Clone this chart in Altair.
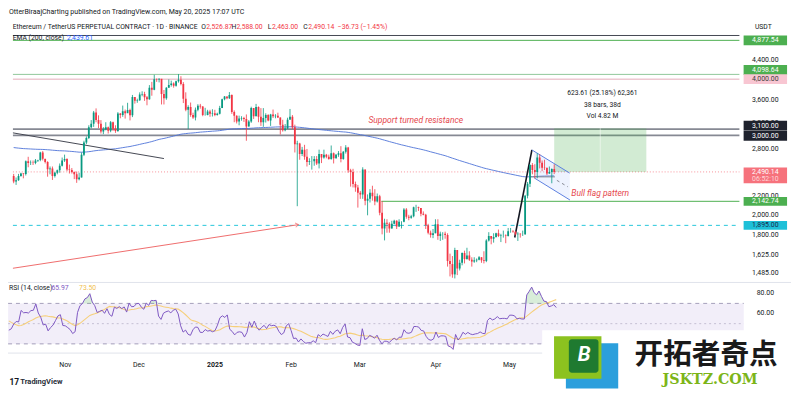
import altair as alt
import pandas as pd
import numpy as np

FONT = "Roboto"

# ---------------- data (ETHUSDT perpetual, 1D) ----------------
# day index t = days from 2024-11-01; first candle 2024-10-09 (t=-23), last 2025-05-20 (t=200)
T_FIRST = -23
FIRST_OPEN = 2440.0

OCT_C = [2370, 2385, 2440, 2470, 2465, 2630, 2605, 2610, 2605, 2640, 2645, 2750, 2665, 2620, 2525, 2535, 2440, 2480, 2510, 2570, 2640, 2660, 2520]
OCT_H = [2465, 2420, 2465, 2480, 2475, 2640, 2690, 2640, 2640, 2660, 2650, 2760, 2770, 2660, 2630, 2560, 2560, 2490, 2520, 2600, 2680, 2720, 2670]
OCT_L = [2350, 2330, 2380, 2430, 2410, 2445, 2550, 2580, 2580, 2590, 2620, 2630, 2640, 2600, 2430, 2460, 2390, 2420, 2460, 2480, 2560, 2620, 2500]

NOV_C = [2515, 2490, 2460, 2400, 2420, 2720, 2895, 2960, 3130, 3185, 3375, 3245, 3185, 3060, 3095, 3130, 3075, 3210, 3105, 3070, 3355, 3330, 3395, 3360, 3415, 3325, 3650, 3580, 3590, 3700]
NOV_H = [2585, 2540, 2495, 2495, 2480, 2750, 2920, 2985, 3160, 3245, 3400, 3445, 3325, 3245, 3130, 3210, 3140, 3230, 3220, 3160, 3380, 3365, 3495, 3425, 3545, 3440, 3690, 3650, 3620, 3740]
NOV_L = [2470, 2470, 2400, 2355, 2385, 2420, 2700, 2870, 2945, 3110, 3135, 3210, 3115, 3030, 3020, 3080, 3030, 3050, 3070, 3040, 3055, 3275, 3300, 3270, 3380, 3240, 3295, 3530, 3545, 3580]

DEC_C = [3710, 3645, 3610, 3830, 3790, 4000, 3995, 4010, 3710, 3630, 3830, 3880, 3910, 3870, 3960, 3990, 3900, 3620, 3420, 3470, 3330, 3290, 3420, 3490, 3480, 3330, 3330, 3390, 3350, 3360, 3330]
DEC_H = [3760, 3750, 3670, 3880, 3945, 4090, 4015, 4015, 4000, 3785, 3840, 3995, 3970, 3935, 3970, 4105, 4060, 3940, 3740, 3500, 3550, 3370, 3460, 3520, 3525, 3485, 3455, 3420, 3420, 3430, 3420]
DEC_L = [3665, 3580, 3500, 3600, 3675, 3780, 3945, 3935, 3515, 3515, 3600, 3830, 3850, 3830, 3850, 3930, 3875, 3540, 3395, 3100, 3300, 3265, 3240, 3395, 3440, 3310, 3320, 3325, 3300, 3305, 3310]

JAN_C = [3350, 3450, 3610, 3660, 3630, 3690, 3380, 3320, 3220, 3270, 3280, 3265, 3140, 3220, 3450, 3310, 3470, 3300, 3210, 3280, 3330, 3240, 3340, 3310, 3320, 3290, 3170, 3080, 3110, 3250, 3300]
JAN_H = [3370, 3490, 3620, 3670, 3660, 3745, 3700, 3410, 3325, 3320, 3310, 3300, 3340, 3245, 3475, 3450, 3525, 3480, 3450, 3450, 3360, 3345, 3350, 3425, 3345, 3370, 3290, 3250, 3180, 3285, 3435]
JAN_L = [3320, 3340, 3450, 3590, 3610, 3615, 3350, 3210, 3190, 3160, 3235, 3215, 2920, 3140, 3200, 3265, 3310, 3210, 3150, 3135, 3205, 3225, 3150, 3280, 3275, 3280, 3015, 3060, 3065, 3100, 3260]

FEB_C = [3130, 2870, 2880, 2730, 2790, 2690, 2620, 2630, 2630, 2660, 2600, 2730, 2680, 2720, 2690, 2660, 2740, 2670, 2720, 2740, 2660, 2760, 2820, 2510, 2490, 2340, 2300, 2240]
FEB_H = [3330, 3170, 2920, 2890, 2830, 2860, 2800, 2670, 2700, 2700, 2700, 2790, 2720, 2790, 2730, 2720, 2850, 2750, 2730, 2770, 2840, 2770, 2855, 2830, 2530, 2530, 2370, 2330]
FEB_L = [3100, 2750, 2090, 2650, 2700, 2650, 2560, 2580, 2520, 2570, 2580, 2535, 2605, 2665, 2670, 2650, 2650, 2600, 2665, 2690, 2615, 2650, 2735, 2480, 2310, 2300, 2250, 2075]

MAR_C = [2220, 2520, 2150, 2170, 2240, 2200, 2140, 2200, 2020, 1865, 1920, 1910, 1865, 1910, 1940, 1885, 1930, 1930, 2055, 1980, 1970, 1985, 2080, 2080, 2070, 2010, 2000, 1895, 1825, 1805, 1820]
MAR_H = [2260, 2550, 2520, 2220, 2280, 2320, 2280, 2230, 2215, 2145, 1960, 1955, 1925, 1940, 1950, 1945, 1955, 1935, 2070, 2070, 2000, 2000, 2085, 2105, 2085, 2070, 2035, 2010, 1910, 1845, 1860]
MAR_L = [2170, 2170, 2100, 1995, 2130, 2150, 2100, 2130, 1995, 1810, 1755, 1825, 1825, 1865, 1905, 1860, 1880, 1865, 1925, 1960, 1945, 1960, 1975, 2030, 2040, 1985, 1995, 1860, 1810, 1780, 1775]

APR_C = [1905, 1795, 1815, 1815, 1805, 1580, 1555, 1475, 1670, 1520, 1565, 1645, 1595, 1625, 1590, 1575, 1585, 1590, 1610, 1585, 1580, 1755, 1795, 1770, 1785, 1820, 1795, 1800, 1800, 1795]
APR_H = [1955, 1955, 1835, 1830, 1835, 1820, 1640, 1620, 1690, 1670, 1590, 1650, 1665, 1690, 1660, 1610, 1610, 1600, 1620, 1610, 1660, 1765, 1830, 1795, 1820, 1825, 1855, 1815, 1845, 1810]
APR_L = [1820, 1760, 1750, 1760, 1770, 1535, 1460, 1450, 1445, 1470, 1505, 1545, 1560, 1590, 1580, 1535, 1565, 1570, 1585, 1565, 1560, 1570, 1745, 1720, 1735, 1780, 1785, 1740, 1780, 1730]

MAY_C = [1840, 1840, 1835, 1810, 1815, 1810, 1810, 2205, 2345, 2580, 2515, 2490, 2680, 2610, 2545, 2540, 2470, 2490, 2526.87, 2490.14]
MAY_H = [1870, 1870, 1850, 1840, 1830, 1820, 1845, 2215, 2365, 2590, 2605, 2590, 2740, 2725, 2640, 2650, 2550, 2560, 2535, 2588]
MAY_L = [1790, 1825, 1825, 1800, 1750, 1780, 1795, 1805, 2175, 2305, 2460, 2410, 2410, 2535, 2500, 2515, 2450, 2465, 2350, 2463]

# closes of 2024-09-09 .. 2024-10-08, used only to warm up RSI / EMA
WARMUP_CLOSE = [2360, 2390, 2340, 2360, 2430, 2415, 2315, 2295, 2340, 2375, 2465, 2560, 2615, 2580, 2645,
                2655, 2580, 2630, 2700, 2680, 2660, 2600, 2445, 2365, 2350, 2415, 2415, 2440, 2425, 2440]
EMA_SEED = 2940.0

CLOSE = OCT_C + NOV_C + DEC_C + JAN_C + FEB_C + MAR_C + APR_C + MAY_C
HIGH = OCT_H + NOV_H + DEC_H + JAN_H + FEB_H + MAR_H + APR_H + MAY_H
LOW = OCT_L + NOV_L + DEC_L + JAN_L + FEB_L + MAR_L + APR_L + MAY_L

# horizontal drawings: price, start day
HLINE_PRICE = [5000, 4877.54, 4098.64, 4000, 3100, 3000, 2142.74, 1895, 2490.14]
HLINE_START = [-23.3, -23.3, -23.3, -23.3, -23.3, -23.3, 128.7, -23.3, -23.3]

# measuring tool
MEASURE_T = [200, 238]
MEASURE_P = [2490.14, 3113.75]
MEASURE_TEXT = ["623.61 (25.18%) 62,361", "38 bars, 38d", "Vol 4.82 M"]

# trend drawings (day, price)
TREND_BLACK = [(-23.3, 3040), (39, 2666)]
ARROW_RED = [(-23.3, 1522), (94.5, 1902)]
FLAGPOLE = [(183.7, 1781), (190.8, 2786)]
FLAG_UPPER = [(190.8, 2786), (206.4, 2475)]
FLAG_LOWER = [(191.8, 2414), (206.5, 2157)]
FLAG_BASE = [(189.9, 2428), (200.3, 2428)]
FLAG_DASH = [(201.1, 2385), (205.6, 2308)]

AXIS_PRICES = [4400, 3600, 3200, 2800, 2200, 2000, 1800, 1625, 1485]
MONTHS = ["Nov", "Dec", "2025", "Feb", "Mar", "Apr", "May"]
MONTH_T = [0, 30, 61, 92, 120, 151, 181]

# ---------------- derived series ----------------
n = len(CLOSE)
t = np.arange(T_FIRST, T_FIRST + n)
opens = [FIRST_OPEN] + CLOSE[:-1]
candles = pd.DataFrame({"t": t, "open": opens, "high": HIGH, "low": LOW, "close": CLOSE})
candles["color"] = np.where(candles["close"] >= candles["open"], "#089981", "#f23645")

full = np.array(WARMUP_CLOSE + CLOSE, dtype=float)
alpha = 2 / 201
ema = np.empty_like(full)
ema[0] = EMA_SEED
for i in range(1, len(full)):
    ema[i] = ema[i - 1] + alpha * (full[i] - ema[i - 1])

delta = np.diff(full)
gain = np.clip(delta, 0, None)
loss = np.clip(-delta, 0, None)
rsi = np.full(len(full), np.nan)
ag = gain[:14].mean()
al = loss[:14].mean()
rsi[14] = 100 - 100 / (1 + ag / al)
for i in range(15, len(full)):
    ag = (ag * 13 + gain[i - 1]) / 14
    al = (al * 13 + loss[i - 1]) / 14
    rsi[i] = 100 - 100 / (1 + ag / al)
rsi_ma = pd.Series(rsi).rolling(14).mean().to_numpy()

w = len(WARMUP_CLOSE)
ind = pd.DataFrame({"t": t, "ema": ema[w:], "rsi": rsi[w:], "ma": rsi_ma[w:]})
ind["ob"] = np.maximum(ind["rsi"], 70)
ind["os"] = np.minimum(ind["rsi"], 30)

# ---------------- scales ----------------
W = 800
H_TOP = 283
H_BOT = 112
T_LEFT, T_RIGHT = -23.3, 276.4
XS = alt.Scale(domain=[-26.15, 295.65], nice=False, zero=False)
PS = alt.Scale(type="log", domain=[1419, 5917], nice=False, zero=False)
RS = alt.Scale(domain=[-18.1, 91.17], nice=False, zero=False)


def X(f):
    return alt.X(f, type="quantitative", scale=XS, axis=None)


def P(f):
    return alt.Y(f, type="quantitative", scale=PS, axis=None)


def R(f):
    return alt.Y(f, type="quantitative", scale=RS, axis=None)


def seg(points, color, width=1.0, dash=None, opacity=1.0):
    df = pd.DataFrame(points, columns=["t", "p"])
    kw = dict(color=color, strokeWidth=width, opacity=opacity, clip=True)
    if dash:
        kw["strokeDash"] = dash
    return alt.Chart(df).mark_line(**kw).encode(x=X("t"), y=P("p"))


def ptext(texts, pxs, pys, color="#131722", size=7, align="left", **kw):
    df = pd.DataFrame({"text": texts, "px": pxs, "py": pys})
    return alt.Chart(df).mark_text(font=FONT, fontSize=size, align=align, baseline="middle",
                                   color=color, **kw).encode(
        x=alt.X("px:Q", scale=None, axis=None),
        y=alt.Y("py:Q", scale=None, axis=None),
        text="text:N")


top_layers = []

# horizontal drawings
hstyle = [
    dict(color="#434651", strokeWidth=1),
    dict(color="#4caf50", strokeWidth=1),
    dict(color="#8fc79a", strokeWidth=1),
    dict(color="#e3aab8", strokeWidth=1),
    dict(color="#868993", strokeWidth=1.8),
    dict(color="#868993", strokeWidth=1.8),
    dict(color="#4caf50", strokeWidth=1),
    dict(color="#26c6da", strokeWidth=1, strokeDash=[4, 4]),
    dict(color="#f23645", strokeWidth=1, strokeDash=[1, 2], opacity=0.55),
]
for p, s, st in zip(HLINE_PRICE, HLINE_START, hstyle):
    df = pd.DataFrame({"p": [p], "t0": [s], "t1": [T_RIGHT]})
    top_layers.append(alt.Chart(df).mark_rule(**st).encode(x=X("t0"), x2="t1", y=P("p")))

# measurement box
mbox = pd.DataFrame({"t0": [MEASURE_T[0]], "t1": [MEASURE_T[1]], "p0": [MEASURE_P[0]], "p1": [MEASURE_P[1]],
                     "tm": [(MEASURE_T[0] + MEASURE_T[1]) / 2]})
top_layers.append(alt.Chart(mbox).mark_rect(color="#4caf50", opacity=0.25).encode(
    x=X("t0"), x2="t1", y=P("p0"), y2="p1"))
top_layers.append(alt.Chart(mbox).mark_rule(color="#ffffff", opacity=0.5, strokeWidth=1).encode(
    x=X("tm"), y=P("p0"), y2="p1"))

# flag channel fill
fl = pd.DataFrame({"t": [191.8, 206.4], "up": [2765, 2475], "lo": [2414, 2160]})
top_layers.append(alt.Chart(fl).mark_area(color="#2962ff", opacity=0.08).encode(
    x=X("t"), y=P("up"), y2="lo"))

# EMA 200
top_layers.append(alt.Chart(ind).mark_line(color="#4d72d8", strokeWidth=1, opacity=0.9).encode(
    x=X("t"), y=P("ema")))

# trend drawings
top_layers.append(seg(TREND_BLACK, "#434651", 1))
top_layers.append(seg(ARROW_RED, "#ef6c6c", 1))
top_layers.append(seg(FLAGPOLE, "#131722", 1.6))
top_layers.append(seg(FLAG_UPPER, "#5b7fe0", 1))
top_layers.append(seg(FLAG_LOWER, "#5b7fe0", 1))
top_layers.append(seg(FLAG_BASE, "#868993", 1))
top_layers.append(seg(FLAG_DASH, "#868993", 1, dash=[3, 3]))
ah = pd.DataFrame({"t": [ARROW_RED[1][0]], "p": [ARROW_RED[1][1]]})
top_layers.append(alt.Chart(ah).mark_point(shape="M-1,-0.7L0,0L-1,0.7", filled=False, size=40,
                                           angle=351.5, color="#ef6c6c", strokeWidth=1).encode(
    x=X("t"), y=P("p")))

# candles
top_layers.append(alt.Chart(candles).mark_rule(strokeWidth=0.8, clip=True).encode(
    x=X("t"), y=P("low"), y2="high", color=alt.Color("color:N", scale=None)))
top_layers.append(alt.Chart(candles).mark_bar(size=1.8, clip=True).encode(
    x=X("t"), y=P("open"), y2="close", color=alt.Color("color:N", scale=None)))

# annotations
top_layers.append(ptext(["Support turned resistance"], [372], [119.5], color="#e5484d", size=8.6, fontStyle="italic"))
top_layers.append(ptext(["Bull flag pattern"], [577.5], [192.5], color="#e5484d", size=8.6, fontStyle="italic"))
top_layers.append(ptext(MEASURE_TEXT, [609, 609, 609], [91.7, 103.8, 115.2], size=6.8, align="center"))

# header
top_layers.append(ptext(["OtterBiraajCharting published on TradingView.com, May 20, 2025 17:07 UTC"], [8], [9.5], size=7.1))
top_layers.append(ptext(["Ethereum / TetherUS PERPETUAL CONTRACT · 1D · BINANCE", "O", "H", "L", "C",
                         "EMA (200, close)"],
                        [11.7, 202.7, 233.3, 270, 306, 11.7], [25, 25, 25, 25, 25, 35.5], size=6.9))
top_layers.append(ptext(["2,526.87", "2,588.00", "2,463.00", "2,490.14", "−36.73 (−1.45%)"],
                        [207.8, 238.4, 274.4, 311.2, 341], [25, 25, 25, 25, 25], color="#f23645", size=6.9))
top_layers.append(ptext(["2,439.61"], [66.7], [35.5], color="#2962ff", size=6.9))
top_layers.append(ptext(["USDT"], [772], [25], size=6.9, align="center"))

# price axis labels
ax = pd.DataFrame({"p": AXIS_PRICES, "text": [f"{v:,.2f}" for v in AXIS_PRICES]})
top_layers.append(alt.Chart(ax).mark_text(font=FONT, fontSize=7, color="#131722").encode(
    x=alt.value(774), y=P("p"), text="text:N"))

# price tags (price, text, background, text colour, vertical offset px, height px)
TAGS = [
    (4877.54, "4,877.54", "#4caf50", "#ffffff", 0, 10),
    (4098.64, "4,098.64", "#4caf50", "#ffffff", -4.5, 10),
    (4000, "4,000.00", "#f8c6d2", "#3a3a3a", 0, 10),
    (3100, "3,100.00", "#1e222d", "#ffffff", -3.4, 10),
    (3000, "3,000.00", "#1e222d", "#ffffff", 0.3, 10),
    (2142.74, "2,142.74", "#4caf50", "#ffffff", 0, 9),
    (1895, "1,895.00", "#1ec0d8", "#1b2a4a", 0, 9),
]
for p, txt, bg, fg, off, h in TAGS:
    d = pd.DataFrame({"p": [p], "text": [txt]})
    top_layers.append(alt.Chart(d).mark_tick(color=bg, thickness=h, size=44, opacity=1, yOffset=off).encode(
        x=alt.value(774), y=P("p")))
    top_layers.append(alt.Chart(d).mark_text(font=FONT, fontSize=7, color=fg, yOffset=off).encode(
        x=alt.value(774), y=P("p"), text="text:N"))
cur = pd.DataFrame({"p": [2490.14], "text": ["2,490.14"], "t2": ["06:52:10"]})
top_layers.append(alt.Chart(cur).mark_tick(color="#f23645", thickness=16, size=44, yOffset=3.6).encode(
    x=alt.value(774), y=P("p")))
top_layers.append(alt.Chart(cur).mark_text(font=FONT, fontSize=7, color="#ffffff").encode(
    x=alt.value(774), y=P("p"), text="text:N"))
top_layers.append(alt.Chart(cur).mark_text(font=FONT, fontSize=7, color="#ffd6d9", yOffset=7.2).encode(
    x=alt.value(774), y=P("p"), text="t2:N"))

top = alt.layer(*top_layers).properties(width=W, height=H_TOP)

# ---------------- RSI pane ----------------
bot_layers = []
band = pd.DataFrame({"t0": [T_LEFT], "t1": [T_RIGHT], "a": [30], "b": [70]})
bot_layers.append(alt.Chart(band).mark_rect(color="#7e57c2", opacity=0.1).encode(
    x=X("t0"), x2="t1", y=R("a"), y2="b"))
for lvl, dash, op in [(70, [4, 4], 0.8), (50, [2, 3], 0.45), (30, [4, 4], 0.8)]:
    d = pd.DataFrame({"r": [lvl], "t0": [T_LEFT], "t1": [T_RIGHT]})
    bot_layers.append(alt.Chart(d).mark_rule(color="#8e88a8", strokeDash=dash, opacity=op, strokeWidth=1).encode(
        x=X("t0"), x2="t1", y=R("r")))
bot_layers.append(alt.Chart(ind).mark_area(color="#4caf50", opacity=0.22).encode(
    x=X("t"), y=R("ob"), y2=alt.Y2(datum=70)))
bot_layers.append(alt.Chart(ind).mark_area(color="#f23645", opacity=0.12).encode(
    x=X("t"), y=R("os"), y2=alt.Y2(datum=30)))
bot_layers.append(alt.Chart(ind).mark_line(color="#f6cf7a", strokeWidth=1.1).encode(x=X("t"), y=R("ma")))
bot_layers.append(alt.Chart(ind).mark_line(color="#7e57c2", strokeWidth=1).encode(x=X("t"), y=R("rsi")))

sep = pd.DataFrame({"x0": [0, 0], "x1": [W, 752], "y": [0.5, 72]})
bot_layers.append(alt.Chart(sep).mark_rule(color="#e0e3eb", strokeWidth=1).encode(
    x=alt.X("x0:Q", scale=None, axis=None), x2="x1", y=alt.Y("y:Q", scale=None, axis=None)))

bot_layers.append(ptext(["RSI (14, close)"], [8], [6.5], size=6.9))
bot_layers.append(ptext(["65.97"], [51], [6.5], color="#7e57c2", size=6.9))
bot_layers.append(ptext(["73.50"], [79], [6.5], color="#f0c050", size=6.9))
rl = pd.DataFrame({"r": [80, 60, 40], "text": ["80.00", "60.00", "40.00"]})
bot_layers.append(alt.Chart(rl).mark_text(font=FONT, fontSize=7, color="#131722").encode(
    x=alt.value(774), y=R("r"), text="text:N"))

mdf = pd.DataFrame({"t": MONTH_T, "text": MONTHS})
bot_layers.append(alt.Chart(mdf[mdf.text != "2025"]).mark_text(font=FONT, fontSize=7, color="#131722").encode(
    x=X("t"), y=alt.value(84), text="text:N"))
bot_layers.append(alt.Chart(mdf[mdf.text == "2025"]).mark_text(font=FONT, fontSize=7, fontWeight="bold",
                                                              color="#131722").encode(
    x=X("t"), y=alt.value(84), text="text:N"))

bot_layers.append(ptext(["17"], [8.5], [101.5], size=8.5, fontWeight="bold"))
bot_layers.append(ptext(["TradingView"], [19.5], [101.5], size=7.6, fontWeight="bold", color="#2a2e39"))


# watermark
def prect(x0, x1, y0, y1, color, **kw):
    d = pd.DataFrame({"x0": [x0], "x1": [x1], "y0": [y0], "y1": [y1]})
    return alt.Chart(d).mark_rect(color=color, **kw).encode(
        x=alt.X("x0:Q", scale=None, axis=None), x2="x1",
        y=alt.Y("y0:Q", scale=None, axis=None), y2="y1")


bot_layers.append(prect(548, 800, 49, 112, "#ffffff"))
bot_layers.append(prect(572, 625, 62, 108, "#2b9fdc"))
bot_layers.append(prect(560, 608, 55, 98, "#8cc21f"))
bot_layers.append(prect(575, 605, 58, 92, "#1f7a30", cornerRadius=3))
bot_layers.append(ptext(["B"], [590.5], [74.5], color="#ffffff", size=21, align="center",
                        fontWeight="bold", fontStyle="italic"))
bot_layers.append(alt.Chart(pd.DataFrame({"text": ["开拓者奇点"], "px": [714], "py": [74]})).mark_text(
    font="Noto Sans CJK SC", fontSize=29, fontWeight="bold", color="#1a1a1a", align="center",
    baseline="middle").encode(x=alt.X("px:Q", scale=None, axis=None),
                              y=alt.Y("py:Q", scale=None, axis=None), text="text:N"))
bot_layers.append(alt.Chart(pd.DataFrame({"text": ["JSKTZ.COM"], "px": [718], "py": [99]})).mark_text(
    font="DejaVu Serif", fontSize=14.5, fontWeight="bold", color="#7cb518", align="center",
    baseline="middle").encode(x=alt.X("px:Q", scale=None, axis=None),
                              y=alt.Y("py:Q", scale=None, axis=None), text="text:N"))

bottom = alt.layer(*bot_layers).properties(width=W, height=H_BOT)

chart = alt.vconcat(top, bottom, spacing=0).properties(
    padding={"left": -8, "top": -8, "right": 0, "bottom": 0},
    background="#ffffff",
).configure_view(stroke=None)

chart.save("out.html", embed_options={"renderer": "svg", "actions": False})
